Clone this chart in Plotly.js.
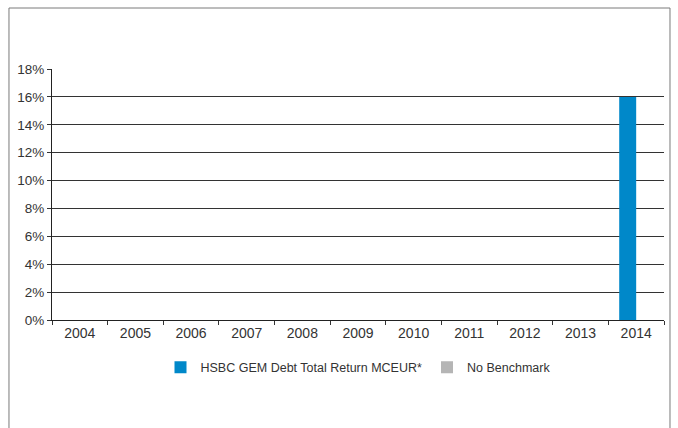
<!DOCTYPE html>
<html>
<head>
<meta charset="utf-8">
<script src="https://cdn.plot.ly/plotly-3.0.1.min.js"></script>
<style>
html,body{margin:0;padding:0;background:#fff;}
#chart{width:678px;height:428px;}
</style>
</head>
<body>
<div id="chart"></div>
<script>
const years = ['2004','2005','2006','2007','2008','2009','2010','2011','2012','2013','2014'];
const fundReturns = [null,null,null,null,null,null,null,null,null,null,0.16];
const benchmarkReturns = [null,null,null,null,null,null,null,null,null,null,null];
const yTickVals = [0,0.02,0.04,0.06,0.08,0.10,0.12,0.14,0.16,0.18];
const fundName = 'HSBC GEM Debt Total Return MCEUR*';
const benchName = 'No Benchmark';

const traces = [
  {type:'bar', x:years, y:fundReturns, name:fundName, marker:{color:'#0088c9'}, hoverinfo:'skip'},
  {type:'bar', x:years, y:benchmarkReturns, name:benchName, marker:{color:'#b5b5b5'}, hoverinfo:'skip'}
];

const layout = {
  width:678, height:428,
  margin:{l:52, r:14, t:69, b:108},
  paper_bgcolor:'#ffffff', plot_bgcolor:'#ffffff',
  font:{family:'"Liberation Sans", Arial, sans-serif', size:13, color:'#333'},
  barmode:'group', bargap:0.39, bargroupgap:0,
  xaxis:{
    type:'category', tickson:'boundaries', ticks:'outside', ticklen:4, tickcolor:'#333',
    showline:true, linecolor:'#222', linewidth:1, showgrid:false, zeroline:false,
    tickfont:{size:14, color:'#333'}, fixedrange:true
  },
  yaxis:{
    range:[0,0.18], tickvals:yTickVals, tickformat:'.0%',
    ticks:'outside', ticklen:4, tickcolor:'#333',
    showline:true, linecolor:'#222', linewidth:1,
    showgrid:true, gridcolor:'#333', gridwidth:1, zeroline:false,
    tickfont:{size:13.5, color:'#333'}, fixedrange:true
  },
  showlegend:true,
  legend:{orientation:'h', x:0.5, xanchor:'center', y:-0.19, yanchor:'middle',
          font:{size:12.5, color:'#333'}, itemwidth:30, tracegroupgap:0},
  shapes:[
    {type:'rect', xref:'paper', yref:'paper', x0:-0.0703, x1:1.0098, y0:-0.5, y1:1.243,
     line:{color:'#7a7a7a', width:1}, fillcolor:'rgba(0,0,0,0)', layer:'below'}
  ]
};

Plotly.newPlot('chart', traces, layout, {displayModeBar:false, staticPlot:true});
</script>
</body>
</html>
